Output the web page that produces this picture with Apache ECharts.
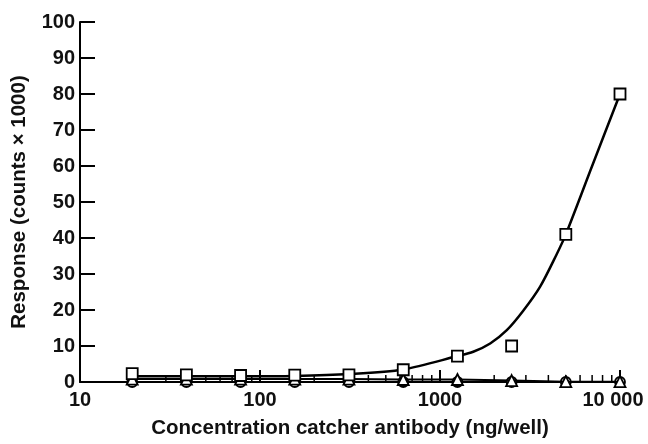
<!DOCTYPE html>
<html>
<head>
<meta charset="utf-8">
<script src="https://cdn.jsdelivr.net/npm/echarts@6/dist/echarts.min.js"></script>
<style>html,body{margin:0;padding:0;background:#fff}#c{width:648px;height:444px}</style>
</head>
<body>
<div id="c"></div>
<script>
// Concentration (ng/well) – doubling dilution series
const concentrations = [19.5, 39, 78, 156, 312, 625, 1250, 2500, 5000, 10000];
// Responses (counts x 1000)
const squareValues   = [2.3, 2.0, 1.8, 1.9, 2.0, 3.4, 7.2, 10, 41, 80];
const triangleValues = [0.8, 0.8, 0.8, 0.8, 0.8, 0.7, 0.7, 0.4, 0.1, 0.1];
const circleValues   = [0, 0, 0, 0, 0, 0, 0, 0, 0, 0];
// Fitted curve through the square series
const fitX = [19.5, 39, 78, 156, 312, 625, 1250, 1530, 1900, 2350, 2900, 3600, 4450, 5000, 7000, 10000];
const fitY = [1.6, 1.6, 1.6, 1.7, 2.2, 3.5, 7.2, 8.4, 10.7, 14.4, 19.8, 26.5, 35.5, 41, 60, 80];
// Axis ticks
const xMinorTicks = [20,30,40,50,60,70,80,90,200,300,400,500,600,700,800,900,2000,3000,4000,5000,6000,7000,8000,9000];

const FONT = 'Liberation Sans';
const pair = (xs, ys) => xs.map((x, i) => [x, ys[i]]);
const markerStyle = {color: '#fff', borderColor: '#000', borderWidth: 1.8, opacity: 1};
const labelFont = {fontFamily: FONT, fontWeight: 'bold', fontSize: 20, color: '#111'};

const chart = echarts.init(document.getElementById('c'), null, {renderer: 'canvas'});
chart.setOption({
  animation: false,
  backgroundColor: '#fff',
  grid: {left: 80, right: 28, top: 22, bottom: 62, containLabel: false, outerBoundsMode: 'none'},
  xAxis: {
    type: 'log', logBase: 10, min: 10, max: 10000,
    name: 'Concentration catcher antibody (ng/well)',
    nameLocation: 'middle', nameGap: 36,
    nameTextStyle: {fontFamily: FONT, fontWeight: 'bold', fontSize: 20.5, color: '#111'},
    axisLine: {lineStyle: {color: '#000', width: 2}},
    axisTick: {inside: true, length: 12, lineStyle: {color: '#000', width: 2}},
    axisLabel: Object.assign({}, labelFont, {margin: 8,
      formatter: v => v === 10000 ? '{big|10 000}' : String(v),
      rich: {big: Object.assign({}, labelFont, {padding: [0, 14, 0, 0]})}}),
    splitLine: {show: false}
  },
  yAxis: {
    type: 'value', min: 0, max: 100, interval: 10,
    name: 'Response (counts × 1000)',
    nameLocation: 'middle', nameGap: 50,
    nameTextStyle: {fontFamily: FONT, fontWeight: 'bold', fontSize: 20.5, color: '#111'},
    axisLine: {show: true, lineStyle: {color: '#000', width: 2}},
    axisTick: {show: true, inside: true, length: 15, lineStyle: {color: '#000', width: 2}},
    axisLabel: Object.assign({}, labelFont, {margin: 5}),
    splitLine: {show: false}
  },
  series: [
    {
      type: 'custom', name: 'minorTicks', silent: true, clip: false, z: 1,
      data: xMinorTicks.map(v => [v, 0]),
      encode: {x: 0, y: 1},
      renderItem: (params, api) => {
        const p = api.coord([api.value(0), 0]);
        return {type: 'line', shape: {x1: p[0], y1: p[1], x2: p[0], y2: p[1] - 7},
          style: {stroke: '#000', lineWidth: 1.5}};
      }
    },
    {
      type: 'line', name: 'circles', data: pair(concentrations, circleValues),
      symbol: 'circle', symbolSize: 10, itemStyle: markerStyle,
      lineStyle: {color: '#000', width: 2}, z: 2
    },
    {
      type: 'line', name: 'triangles', data: pair(concentrations, triangleValues),
      symbol: 'triangle', symbolSize: 11, itemStyle: markerStyle,
      lineStyle: {color: '#000', width: 2}, z: 3
    },
    {
      type: 'line', name: 'fit', data: pair(fitX, fitY), smooth: 0.3,
      symbol: 'none', lineStyle: {color: '#000', width: 2.5}, z: 4
    },
    {
      type: 'scatter', name: 'squares', data: pair(concentrations, squareValues),
      symbol: 'rect', symbolSize: 11, itemStyle: markerStyle, z: 5
    }
  ]
});
</script>
</body>
</html>
